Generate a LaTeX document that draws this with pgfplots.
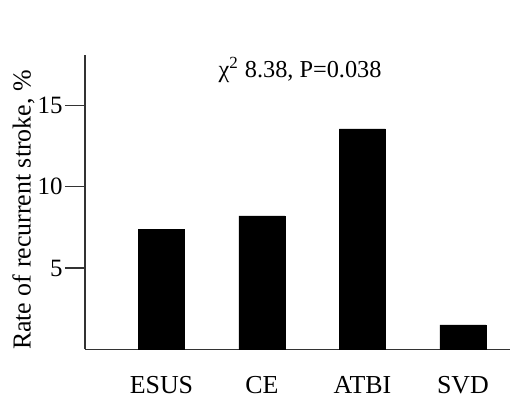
\documentclass[border=0pt]{standalone}
\usepackage{pgfplots}
\pgfplotsset{compat=1.18}
\usepackage{fontspec}
\setmainfont{Liberation Serif}
\begin{document}
\begin{tikzpicture}
\path[use as bounding box] (0,0) rectangle (255bp,198bp);
\begin{axis}[
  at={(42.5bp,23.35bp)}, anchor=south west,
  scale only axis, width=212.5bp, height=147.15bp,
  xmin=-0.761, xmax=3.468, ymin=0, ymax=18.1,
  axis lines*=left,
  axis line style={line width=0.6bp, color=black!80},
  ytick={5,10,15},
  xtick={0,1,2,3}, xticklabels={ESUS,CE,ATBI,SVD},
  tick align=outside, major tick length=10bp,
  tick style={line width=0.6bp, black!80},
  xtick style={draw=none},
  /pgf/number format/assume math mode=true,
  yticklabel style={font=\fontsize{12.5}{15}\selectfont, inner sep=0pt, xshift=-1bp},
  xticklabel style={font=\fontsize{13}{15}\selectfont, anchor=base, inner sep=0pt, yshift=-12bp},
  ylabel={Rate of recurrent stroke, \%},
  ylabel style={at={(axis description cs:-0.1278,0.473)}, anchor=base, font=\fontsize{13}{15}\selectfont},
  clip=false,
]
\addplot[ybar, bar width=23bp, fill=black, draw=black] coordinates {(0,7.38) (1,8.2) (2,13.55) (3,1.5)};
\node[font=\fontsize{12.2}{14}\selectfont] at (rel axis cs:0.506,0.949) {χ\textsuperscript{2} 8.38, P=0.038};
\end{axis}
\end{tikzpicture}
\end{document}
